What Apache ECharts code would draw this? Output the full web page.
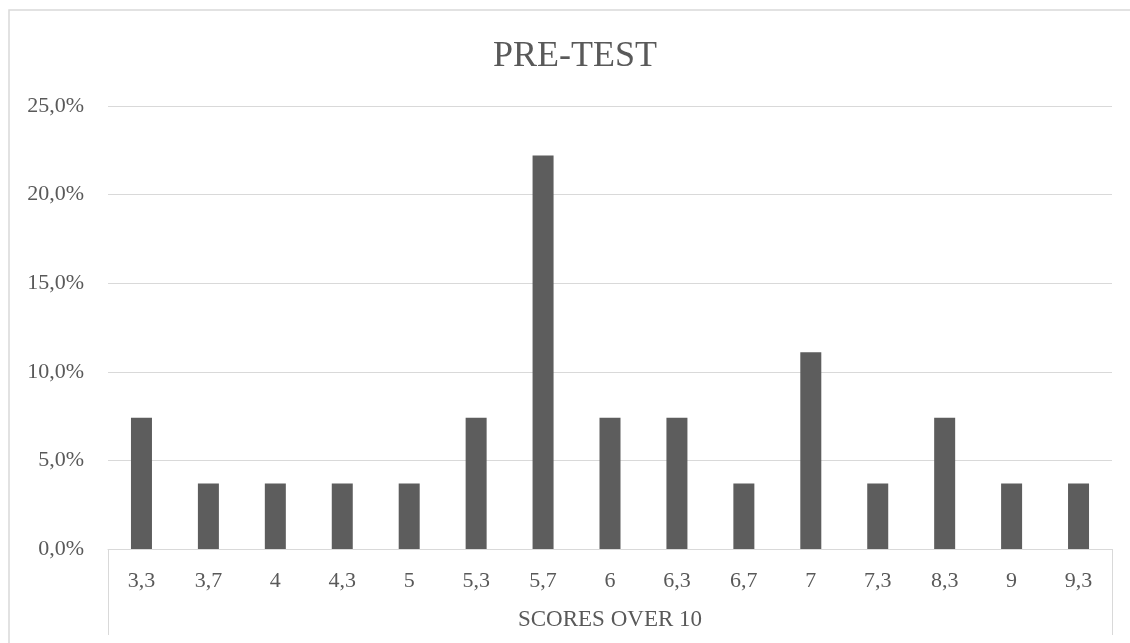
<!DOCTYPE html>
<html>
<head>
<meta charset="utf-8">
<script src="https://cdn.jsdelivr.net/npm/echarts@6/dist/echarts.min.js"></script>
<style>
    html, body { margin: 0; padding: 0; background: #fff; }
    #chart { width: 1130px; height: 643px; }
</style>
</head>
<body>
<div id="chart"></div>
<script>
// scores (out of 10) and share of students, 27 students total
const categories = ['3,3', '3,7', '4', '4,3', '5', '5,3', '5,7', '6', '6,3', '6,7', '7', '7,3', '8,3', '9', '9,3'];
const shares = [7.4, 3.7, 3.7, 3.7, 3.7, 7.4, 22.2, 7.4, 7.4, 3.7, 11.1, 3.7, 7.4, 3.7, 3.7];
const yTicks = { min: 0, max: 25, step: 5 };

const TEXT = '#595959';
const LINE = '#d9d9d9';
const FONT = '"Liberation Serif", "DejaVu Serif", serif';

const chart = echarts.init(document.getElementById('chart'));

chart.setOption({
    animation: false,
    backgroundColor: '#fff',
    title: {
        text: 'PRE-TEST',
        left: 488, top: 34,
        textStyle: { fontFamily: FONT, fontSize: 36, fontWeight: 'normal', color: TEXT },
    },
    // v6 shrinks the grid to fit labels by default; keep it where it is
    grid: { left: 108, right: 18, top: 106, bottom: 94, outerBoundsMode: 'none', containLabel: false },
    xAxis: {
        type: 'category',
        data: categories,
        name: 'SCORES OVER 10',
        nameLocation: 'middle',
        nameGap: 59,
        nameTextStyle: { fontFamily: FONT, fontSize: 23, color: TEXT },
        axisLine: { lineStyle: { color: LINE, width: 1 } },
        axisTick: { show: false },
        axisLabel: { fontFamily: FONT, fontSize: 22, color: TEXT, margin: 21 },
    },
    yAxis: {
        type: 'value',
        min: yTicks.min, max: yTicks.max, interval: yTicks.step,
        axisLine: { show: false },
        axisTick: { show: false },
        splitLine: { lineStyle: { color: LINE, width: 1 } },
        axisLabel: {
            fontFamily: FONT, fontSize: 22, color: TEXT, margin: 24,
            formatter: v => v.toFixed(1).replace('.', ',') + '%',
        },
    },
    series: [{
        type: 'bar',
        data: shares,
        barWidth: 21,
        itemStyle: { color: '#5d5d5d' },
    }],
    // chart frame and the category box under the axis
    graphic: [
        { type: 'rect', shape: { x: 9, y: 10, width: 1200, height: 700 }, style: { fill: 'none', stroke: LINE, lineWidth: 1.5 }, silent: true },
        { type: 'line', shape: { x1: 108.5, y1: 549, x2: 108.5, y2: 635 }, style: { stroke: LINE, lineWidth: 1 }, silent: true },
        { type: 'line', shape: { x1: 1112.5, y1: 549, x2: 1112.5, y2: 635 }, style: { stroke: LINE, lineWidth: 1 }, silent: true },
    ],
});
</script>
</body>
</html>
